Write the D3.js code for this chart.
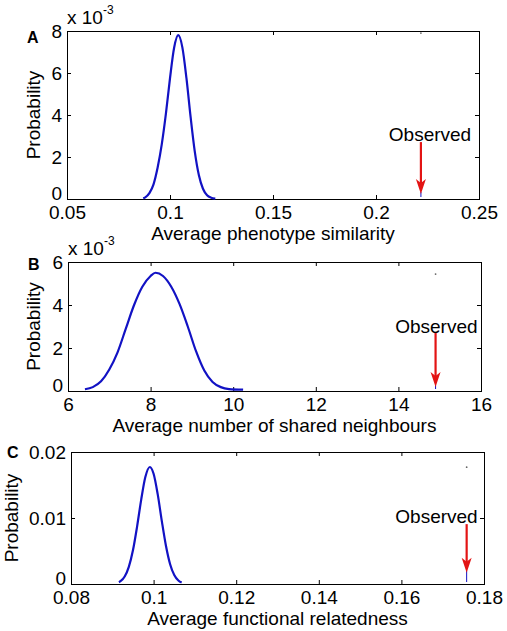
<!DOCTYPE html>
<html><head><meta charset="utf-8">
<script src="https://cdn.jsdelivr.net/npm/d3@7"></script>
<style>
body{margin:0;background:#fff}
text{font-family:"Liberation Sans",Arial,Helvetica,sans-serif;fill:#000}
</style>
</head><body>
<svg id="chart" width="507" height="631"></svg>
<script>
// ---------- Panel A: average phenotype similarity (probability x 10^-3)
const xA = [0.087,0.088,0.090,0.092,0.094,0.096,0.098,0.100,0.102,0.104,0.106,0.108,0.110,0.112,0.114,0.116,0.118,0.120,0.122];
const yA = [0.03,0.08,0.28,0.70,1.50,2.60,4.05,5.75,7.20,7.80,7.22,5.74,3.91,2.28,1.14,0.49,0.18,0.06,0.02];
const xTicksA = [0.05,0.1,0.15,0.2,0.25];
const xTickLabelsA = ["0.05","0.1","0.15","0.2","0.25"];
const yTicksA = [0,2,4,6,8];
const yTickLabelsA = ["0","2","4","6","8"];
const observedA = 0.2218;

// ---------- Panel B: average number of shared neighbours (probability x 10^-3)
const xB = [6.41,6.6,6.8,7.0,7.2,7.4,7.6,7.8,8.0,8.12,8.3,8.5,8.7,8.9,9.1,9.3,9.5,9.7,9.9,10.24];
const yB = [0.08,0.18,0.45,1.0,1.8,2.9,4.0,4.85,5.35,5.5,5.35,4.85,4.05,3.0,1.85,0.95,0.42,0.18,0.09,0.06];
const xTicksB = [6,8,10,12,14,16];
const xTickLabelsB = ["6","8","10","12","14","16"];
const yTicksB = [0,2,4,6];
const yTickLabelsB = ["0","2","4","6"];
const observedB = 14.9;

// ---------- Panel C: average functional relatedness (probability)
const xC = [0.0916,0.092,0.093,0.094,0.095,0.096,0.097,0.098,0.0991,0.100,0.101,0.102,0.103,0.104,0.105,0.106,0.1068];
const yC = [0.00028,0.00042,0.00113,0.00259,0.0051,0.0087,0.01279,0.0162,0.01773,0.0167,0.01358,0.0095,0.00576,0.0030,0.00136,0.00053,0.00022];
const xTicksC = [0.08,0.1,0.12,0.14,0.16,0.18];
const xTickLabelsC = ["0.08","0.1","0.12","0.14","0.16","0.18"];
const yTicksC = [0,0.01,0.02];
const yTickLabelsC = ["0","0.01","0.02"];
const observedC = 0.1758;

const panelLetters = ["A","B","C"];
const xTitles = ["Average phenotype similarity","Average number of shared neighbours","Average functional relatedness"];
const yTitle = "Probability";
const obsLabel = "Observed";

const BLUE = "#1212c4", RED = "#e31414";
const FS = 19;

const panels = [
  {x:xA,y:yA,xt:xTicksA,xl:xTickLabelsA,yt:yTicksA,yl:yTickLabelsA,xd:[0.05,0.25],yd:[0,8],obs:observedA,
   box:{l:67,r:479,t:31,b:199}, exp:true, letter:{x:27,y:43}, ylabX:40,
   obsText:{x:0.2262,y:2.76}, arrowTop:2.71, arrowTip:0.24, dotY:7.9},
  {x:xB,y:yB,xt:xTicksB,xl:xTickLabelsB,yt:yTicksB,yl:yTickLabelsB,xd:[6,16],yd:[0,6],obs:observedB,
   box:{l:68,r:481,t:262,b:391}, exp:true, letter:{x:28,y:270}, ylabX:40,
   obsText:{x:14.92,y:2.70}, arrowTop:2.70, arrowTip:0.19, dotY:5.44},
  {x:xC,y:yC,xt:xTicksC,xl:xTickLabelsC,yt:yTicksC,yl:yTickLabelsC,xd:[0.08,0.18],yd:[0,0.02],obs:observedC,
   box:{l:71,r:484,t:452,b:584}, exp:false, letter:{x:7,y:458}, ylabX:18,
   obsText:{x:0.1685,y:0.00922}, arrowTop:0.00907, arrowTip:0.0017, dotY:0.0177}
];

const svg = d3.select("#chart");

panels.forEach((p,i)=>{
  const bx = p.box;
  const xs = d3.scaleLinear().domain(p.xd).range([bx.l,bx.r]);
  const ys = d3.scaleLinear().domain(p.yd).range([bx.b,bx.t]);
  const g = svg.append("g");

  // bottom axis with labels (ticks inside)
  const gb = g.append("g").attr("transform",`translate(0,${bx.b})`)
    .call(d3.axisBottom(xs).tickValues(p.xt).tickFormat((d,j)=>p.xl[j]).tickSizeInner(-4).tickSizeOuter(0).tickPadding(7));
  gb.selectAll("text").attr("font-size",FS).attr("font-family",null);
  // top axis, ticks only
  g.append("g").attr("transform",`translate(0,${bx.t})`)
    .call(d3.axisTop(xs).tickValues(p.xt).tickFormat("").tickSizeInner(-4).tickSizeOuter(0));
  // left axis with labels
  const gl = g.append("g").attr("transform",`translate(${bx.l},0)`)
    .call(d3.axisLeft(ys).tickValues(p.yt).tickFormat((d,j)=>p.yl[j]).tickSizeInner(-4).tickSizeOuter(0).tickPadding(5));
  gl.selectAll("text").attr("font-size",FS).attr("font-family",null);
  // lift the bottom-most y label a little so it clears the x labels
  gl.selectAll(".tick").filter(d=>d===p.yd[0]).select("text").attr("dy","0.04em");
  // right axis ticks
  g.append("g").attr("transform",`translate(${bx.r},0)`)
    .call(d3.axisRight(ys).tickValues(p.yt).tickFormat("").tickSizeInner(-4).tickSizeOuter(0));
  g.selectAll(".domain").remove();
  g.selectAll(".tick line").attr("stroke","#000");

  // box
  g.append("rect").attr("x",bx.l+0.5).attr("y",bx.t+0.5)
    .attr("width",bx.r-bx.l).attr("height",bx.b-bx.t)
    .attr("fill","none").attr("stroke","#000").attr("stroke-width",1);

  // curve
  const pts = p.x.map((v,j)=>[v,p.y[j]]);
  g.append("path").datum(pts)
    .attr("d", d3.line().x(d=>xs(d[0])).y(d=>ys(d[1])).curve(d3.curveMonotoneX))
    .attr("fill","none").attr("stroke",BLUE).attr("stroke-width",2.2).attr("stroke-linejoin","round");

  // observed marker (faint dot + thin blue line)
  const ox = xs(p.obs);
  g.append("circle").attr("cx",ox).attr("cy",ys(p.dotY)).attr("r",0.9).attr("fill","#666");
  g.append("line").attr("x1",ox).attr("x2",ox).attr("y1",ys(p.arrowTip)-2).attr("y2",bx.b-2)
    .attr("stroke",BLUE).attr("stroke-width",1);

  // arrow
  const tipY = ys(p.arrowTip);
  g.append("line").attr("x1",ox).attr("x2",ox).attr("y1",ys(p.arrowTop)).attr("y2",tipY-10)
    .attr("stroke",RED).attr("stroke-width",2.2);
  g.append("path")
    .attr("d",`M${ox},${tipY} L${ox-5},${tipY-15} L${ox},${tipY-11} L${ox+5},${tipY-15} Z`)
    .attr("fill",RED);

  g.append("text").attr("x",xs(p.obsText.x)).attr("y",ys(p.obsText.y))
    .attr("text-anchor","middle").attr("font-size",FS).text(obsLabel);

  // axis titles
  g.append("text").attr("x",(bx.l+bx.r)/2).attr("y",bx.b+41)
    .attr("text-anchor","middle").attr("font-size",FS).text(xTitles[i]);
  g.append("text").attr("transform",`translate(${p.ylabX},${(bx.t+bx.b)/2}) rotate(-90)`)
    .attr("text-anchor","middle").attr("font-size",FS).text(yTitle);

  // panel letter
  g.append("text").attr("x",p.letter.x).attr("y",p.letter.y)
    .attr("font-size",16).attr("font-weight","bold").text(panelLetters[i]);

  // exponent label
  if(p.exp){
    const t = g.append("text").attr("x",bx.l).attr("y",bx.t-7).attr("font-size",FS);
    t.append("tspan").text("x 10");
    t.append("tspan").attr("font-size",12).attr("dy",-10).text("-3");
  }
});
</script>
</body></html>
